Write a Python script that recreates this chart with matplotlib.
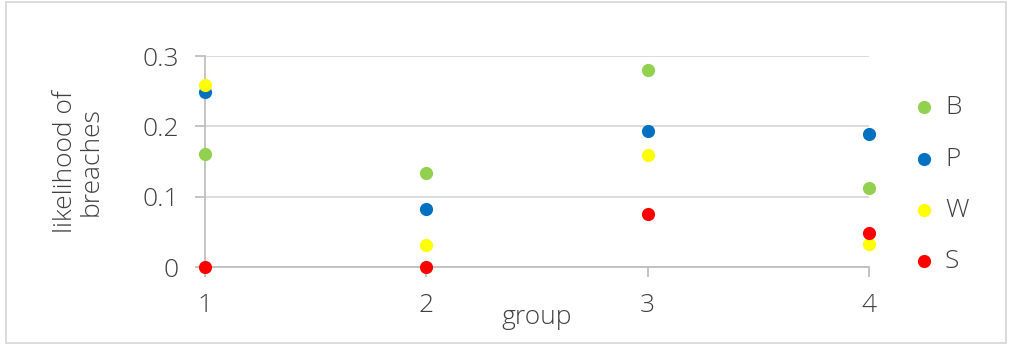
import numpy as np
import matplotlib
matplotlib.use("Agg")
import matplotlib.pyplot as plt
from matplotlib.patches import Rectangle

plt.rcParams['font.family'] = ['Open Sans', 'DejaVu Sans']
plt.rcParams['font.weight'] = 'light'
plt.rcParams['axes.labelweight'] = 'light'

groups = [1, 2, 3, 4]
series_names = ["B", "P", "W", "S"]
b_vals = [0.16, 0.134, 0.28, 0.113]
p_vals = [0.249, 0.083, 0.193, 0.189]
w_vals = [0.259, 0.031, 0.159, 0.033]
s_vals = [0.0, 0.0, 0.076, 0.048]
colors = ["#92D050", "#0070C0", "#FFFF00", "#FF0000"]

text_col = "#404040"
grid_col = "#D9D9D9"
axis_col = "#BFBFBF"
fs = 19

fig = plt.figure(figsize=(10.12, 3.44), dpi=100)
ax = fig.add_axes([0.2026, 0.2238, 0.6561, 0.6134])

for name, vals, c in zip(series_names, [b_vals, p_vals, w_vals, s_vals], colors):
    ax.scatter(groups, vals, s=90, color=c, label=name, zorder=3, clip_on=False, linewidths=0)

ax.set_xlim(1, 4)
ax.set_ylim(0, 0.3)
ax.set_xticks(groups)
ax.set_yticks([0, 0.1, 0.2, 0.3])
ax.set_yticklabels(["0", "0.1", "0.2", "0.3"])
ax.yaxis.grid(True, color=grid_col, linewidth=1.3)
ax.set_axisbelow(True)

for side in ["top", "right"]:
    ax.spines[side].set_visible(False)
ax.spines["left"].set_color(axis_col)
ax.spines["bottom"].set_color(axis_col)
ax.spines["left"].set_linewidth(1.3)
ax.spines["bottom"].set_linewidth(1.3)
ax.tick_params(axis="both", colors=axis_col, labelcolor=text_col, labelsize=fs,
               length=7, width=1.3)
ax.tick_params(axis="x", pad=12)
ax.tick_params(axis="y", pad=12)

ax.set_ylabel("likelihood of\nbreaches", fontsize=fs, color=text_col, labelpad=28,
              linespacing=1.0, fontweight="light")
ax.set_xlabel("group", fontsize=fs, color=text_col, labelpad=-10, fontweight="light")

leg = ax.legend(loc="center left", bbox_to_anchor=(1.027, 0.39), frameon=False,
                fontsize=fs, labelcolor=text_col, handlelength=1.0, handletextpad=0.3,
                labelspacing=1.0)

fig.add_artist(Rectangle((0.006, 0.003), 0.988, 0.99, transform=fig.transFigure,
                         fill=False, edgecolor="#D9D9D9", linewidth=1.3))

fig.savefig("out.png", dpi=100)
